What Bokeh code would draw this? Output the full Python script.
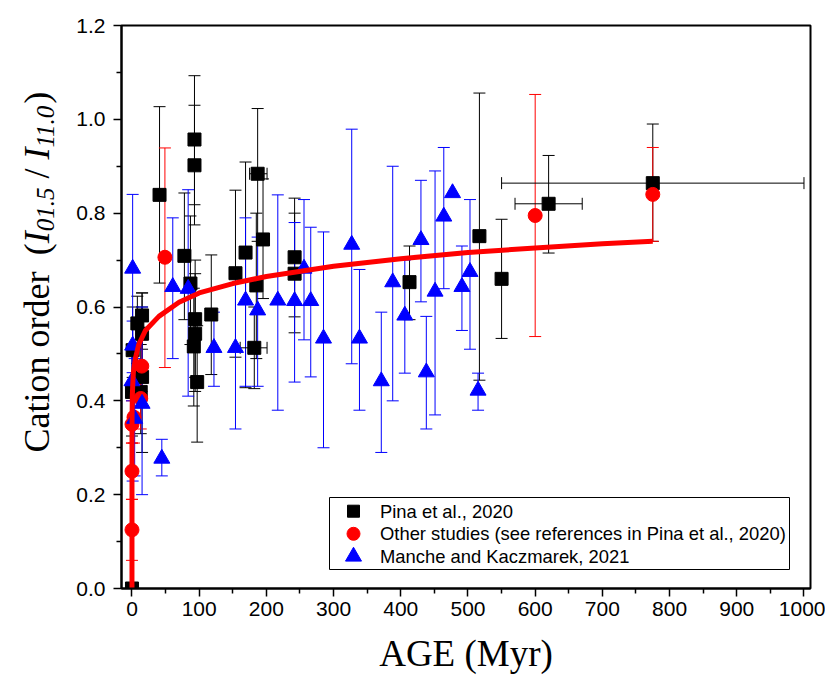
from bokeh.plotting import figure
from bokeh.layouts import row
from bokeh.models import (ColumnDataSource, Whisker, TeeHead, Range1d, FixedTicker,
                          PrintfTickFormatter)
from bokeh.core.properties import value
from bokeh.embed import file_html
from bokeh.resources import INLINE
from math import pi

# ---------------- data ----------------
# Pina et al., 2020 (black squares)
pina_age   = [0, 0, 1, 8, 15, 15, 15, 13, 41, 78, 87, 93, 93, 94, 94, 92, 97, 118, 154, 169,
              182, 185, 187, 195, 242, 242, 413, 517, 550, 620, 775]
pina_order = [0.0, 0.419, 0.508, 0.565, 0.582, 0.543, 0.451, 0.419, 0.839, 0.709, 0.650, 0.957,
              0.902, 0.574, 0.543, 0.516, 0.440, 0.584, 0.672, 0.716, 0.513, 0.646, 0.884,
              0.744, 0.706, 0.671, 0.653, 0.751, 0.660, 0.820, 0.864]
pina_low   = [0.0, 0.325, 0.45, 0.48, 0.51, 0.45, 0.29, 0.33, 0.651, 0.573, 0.52, 0.818,
              0.775, 0.45, 0.42, 0.389, 0.312, 0.456, 0.493, 0.428, 0.426, 0.49, 0.74,
              0.618, 0.579, 0.545, 0.573, 0.444, 0.533, 0.715, 0.74]
pina_high  = [0.0, 0.52, 0.60, 0.623, 0.63, 0.63, 0.60, 0.52, 1.027, 0.843, 0.794, 1.093,
              1.03, 0.70, 0.671, 0.64, 0.56, 0.711, 0.849, 0.909, 0.60, 0.80, 1.023,
              0.873, 0.832, 0.80, 0.73, 1.056, 0.787, 0.923, 0.99]
# horizontal (age) error bars of some Pina et al. points
pina_xerr_age   = [182, 187, 620, 775]
pina_xerr_order = [0.513, 0.884, 0.820, 0.864]
pina_xerr_low   = [161, 175, 570, 550]
pina_xerr_high  = [201, 201, 670, 1000]

# Other studies (red circles)
other_age   = [0, 0, 0, 3, 13, 14.6, 49, 600, 775]
other_order = [0.125, 0.25, 0.35, 0.365, 0.405, 0.474, 0.706, 0.795, 0.840]
other_low   = [0.06, 0.19, 0.31, 0.31, 0.34, 0.42, 0.471, 0.537, 0.74]
other_high  = [0.19, 0.31, 0.40, 0.42, 0.47, 0.53, 0.939, 1.053, 0.94]

# Manche and Kaczmarek, 2021 (blue triangles)
mk_age   = [1, 0, 1, 15, 4, 44.4, 60.7, 83.6, 122, 154, 169, 187, 217, 242, 256, 266, 285,
            327, 338.5, 371, 388, 406, 430, 438, 451, 464, 477, 491, 503, 515]
mk_order = [0.682, 0.442, 0.518, 0.394, 0.362, 0.277, 0.643, 0.639, 0.513, 0.513, 0.614,
            0.593, 0.614, 0.613, 0.682, 0.613, 0.533, 0.733, 0.533, 0.442, 0.653, 0.582,
            0.743, 0.461, 0.633, 0.793, 0.843, 0.643, 0.675, 0.422]
mk_low   = [0.229, 0.40, 0.46, 0.20, 0.24, 0.24, 0.49, 0.41, 0.431, 0.34, 0.431, 0.431,
            0.38, 0.44, 0.53, 0.451, 0.30, 0.479, 0.38, 0.29, 0.40, 0.459, 0.611, 0.34,
            0.37, 0.639, 0.843, 0.55, 0.51, 0.38]
mk_high  = [0.84, 0.50, 0.57, 0.60, 0.49, 0.318, 0.79, 0.85, 0.589, 0.68, 0.79, 0.749,
            0.839, 0.78, 0.829, 0.77, 0.76, 0.979, 0.68, 0.589, 0.90, 0.70, 0.87, 0.58,
            0.89, 0.94, 0.843, 0.73, 0.829, 0.459]

# fitted trend
fit_age   = [0, 0.01, 0.1, 0.5, 1, 2, 5, 10, 20, 40, 70, 100, 150, 200, 300, 400, 500,
             600, 700, 775]
fit_order = [0, 0.30, 0.36, 0.41, 0.43, 0.46, 0.49, 0.52, 0.55, 0.58, 0.61, 0.63, 0.65,
             0.665, 0.687, 0.703, 0.716, 0.726, 0.735, 0.740]

x_ticks = [0, 100, 200, 300, 400, 500, 600, 700, 800, 900, 1000]
x_minor = [50, 150, 250, 350, 450, 550, 650, 750, 850, 950]
y_ticks = [0.0, 0.2, 0.4, 0.6, 0.8, 1.0, 1.2]
y_minor = [0.1, 0.3, 0.5, 0.7, 0.9, 1.1]

legend_labels = ["Pina et al., 2020",
                 "Other studies (see references in Pina et al., 2020)",
                 "Manche and Kaczmarek, 2021"]

# ---------------- layout constants (pixels) ----------------
H = 677
LW = 65                     # width of the y-title strip
FR_L, FR_R, FR_T, FR_B = 121, 810, 25, 588   # frame edges in page pixels
X0, X1 = -15.6, 1009.7
Y0, Y1 = 0.0, 1.2

def px_to_x(px):
    return X0 + (px - FR_L) * (X1 - X0) / (FR_R - FR_L)

def py_to_y(py):
    return Y0 + (FR_B - py) * (Y1 - Y0) / (FR_B - FR_T)

# ---------------- main figure ----------------
p = figure(width=825 - LW, height=H, x_range=Range1d(X0, X1), y_range=Range1d(Y0, Y1),
           output_backend="svg", toolbar_location=None,
           min_border_left=FR_L - LW, min_border_right=825 - FR_R,
           min_border_top=FR_T, min_border_bottom=H - FR_B)
p.grid.visible = False
p.outline_line_color = "black"
p.outline_line_width = 2
p.background_fill_color = "white"
p.border_fill_color = "white"

for ax in (p.xaxis[0], p.yaxis[0]):
    ax.axis_line_width = 2
    ax.major_tick_out = 8
    ax.major_tick_in = 0
    ax.minor_tick_out = 5
    ax.minor_tick_in = 0
    ax.major_tick_line_width = 1.5
    ax.minor_tick_line_width = 1.5
    ax.major_label_text_color = "black"

p.xaxis.major_label_text_font = "'Liberation Sans Narrow', 'Liberation Sans', sans-serif"
p.xaxis.major_label_text_font_size = "21px"
p.yaxis.major_label_text_font = "Liberation Sans"
p.yaxis.major_label_text_font_size = "21px"

p.xaxis.ticker = FixedTicker(ticks=x_ticks, minor_ticks=x_minor)
p.yaxis.ticker = FixedTicker(ticks=y_ticks, minor_ticks=y_minor)
p.yaxis.formatter = PrintfTickFormatter(format="%.1f")
p.xaxis.major_label_standoff = 5
p.yaxis.major_label_standoff = 8

p.xaxis.axis_label = "AGE (Myr)"
p.xaxis.axis_label_text_font = "Liberation Serif"
p.xaxis.axis_label_text_font_size = "37px"
p.xaxis.axis_label_text_font_style = "normal"
p.xaxis.axis_label_text_color = "black"
p.xaxis.axis_label_standoff = 14

# ---------------- error bars ----------------
def vwhisk(xs, lo, hi, color):
    idx = [i for i in range(len(xs)) if hi[i] - lo[i] > 1e-9]
    src = ColumnDataSource(dict(x=[xs[i] for i in idx], lo=[lo[i] for i in idx],
                                hi=[hi[i] for i in idx]))
    p.add_layout(Whisker(base="x", lower="lo", upper="hi", source=src, dimension="height",
                         line_color=color, line_width=1,
                         upper_head=TeeHead(size=12, line_color=color, line_width=1),
                         lower_head=TeeHead(size=12, line_color=color, line_width=1)))

vwhisk(pina_age, pina_low, pina_high, "black")
vwhisk(other_age, other_low, other_high, "red")
vwhisk(mk_age, mk_low, mk_high, "blue")

hsrc = ColumnDataSource(dict(y=pina_xerr_order, lo=pina_xerr_low, hi=pina_xerr_high))
p.add_layout(Whisker(base="y", lower="lo", upper="hi", source=hsrc, dimension="width",
                     line_color="black", line_width=1,
                     upper_head=TeeHead(size=12, line_color="black", line_width=1),
                     lower_head=TeeHead(size=12, line_color="black", line_width=1)))

# ---------------- markers ----------------
styles = [("square", 13, "black"), ("circle", 14, "red"), ("triangle", 16, "blue")]
series = [(pina_age, pina_order), (other_age, other_order), (mk_age, mk_order)]
for (mk, sz, col), (xs, ys) in zip(styles, series):
    p.scatter(xs, ys, marker=mk, size=sz, fill_color=col, line_color=col)

p.line(fit_age, fit_order, line_color="red", line_width=5)

# ---------------- legend (drawn by hand for exact marker sizes) ----------------
LB_L, LB_R, LB_T, LB_B = 329, 789, 497, 569
p.quad(left=[px_to_x(LB_L)], right=[px_to_x(LB_R)], top=[py_to_y(LB_T)],
       bottom=[py_to_y(LB_B)], fill_color="white", line_color="black", line_width=1)
row_py = [510.7, 533.3, 556.0]
for (mk, sz, col), lab, ry in zip(styles, legend_labels, row_py):
    lsz = {"square": 12, "circle": 13, "triangle": 16}[mk]
    p.scatter([px_to_x(353)], [py_to_y(ry)], marker=mk, size=lsz, fill_color=col,
              line_color=col)
    p.text([px_to_x(379.5)], [py_to_y(ry)], text=[lab], text_font=value("Liberation Sans"),
           text_font_size="18.4px", text_color="black", text_align="left",
           text_baseline="middle")

# ---------------- y-axis title strip ----------------
yl = figure(width=LW, height=H, x_range=Range1d(0, LW), y_range=Range1d(H - FR_B, H - FR_T),
            output_backend="svg", toolbar_location=None, x_axis_type=None,
            y_axis_type=None, min_border_left=0, min_border_right=0,
            min_border_top=FR_T, min_border_bottom=H - FR_B)
yl.grid.visible = False
yl.outline_line_color = None
yl.background_fill_color = "white"
yl.border_fill_color = "white"

F, S = 36, 25
x_main, x_sub = 36, 45
pos = H - 452          # start of the title (bottom of text), in strip coordinates
pieces = []
pieces.append(("Cation order", x_main, pos, F, "normal")); pos += (4.977 + 0.5) * F
pieces.append(("(", x_main, pos, F, "normal")); pos += 0.333 * F
pieces.append(("I", x_main, pos, F, "italic")); pos += 0.333 * F
pieces.append(("01.5", x_sub, pos, S, "italic")); pos += 1.75 * S + 0.25 * F
pieces.append(("/", x_main, pos, F, "normal")); pos += 0.528 * F
pieces.append(("I", x_main, pos, F, "italic")); pos += 0.333 * F
pieces.append(("11.0", x_sub, pos, S, "italic")); pos += 1.75 * S
pieces.append((")", x_main, pos, F, "normal"))

for txt, tx, ty, fs, st in pieces:
    yl.text([tx], [ty], text=[txt], angle=pi / 2, text_font=value("Liberation Serif"),
            text_font_size=f"{fs}px", text_font_style=st, text_color="black",
            text_align="left", text_baseline="alphabetic")

layout = row(yl, p, spacing=0)
open("out.html", "w").write(file_html(layout, INLINE))
